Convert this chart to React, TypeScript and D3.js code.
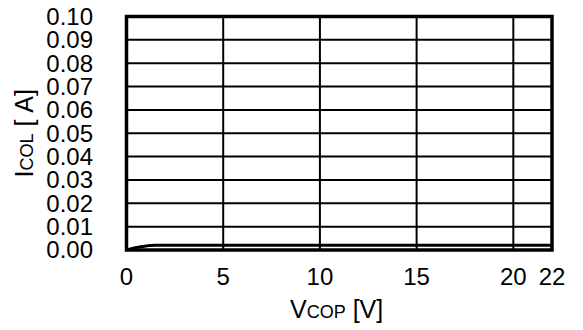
import React from "react";
import * as d3 from "d3";

const xTicks = [0, 5, 10, 15, 20, 22];
const yTicks = [0, 0.01, 0.02, 0.03, 0.04, 0.05, 0.06, 0.07, 0.08, 0.09, 0.1];
const vcop = [0, 0.2, 0.4, 0.6, 0.8, 1.0, 1.2, 1.5, 2, 5, 10, 15, 20, 22];
const icol = [0, 0.0005, 0.0009, 0.0012, 0.0015, 0.0017, 0.0019, 0.002, 0.002, 0.002, 0.002, 0.002, 0.002, 0.002];

export default function App() {
  const W = 583, H = 330;
  const m = { left: 126.5, right: 552, top: 16.5, bottom: 250 };
  const x = d3.scaleLinear().domain([0, 22]).range([m.left, m.right]);
  const y = d3.scaleLinear().domain([0, 0.1]).range([m.bottom, m.top]);
  const line = d3.line<number>().x((_, i) => x(vcop[i])).y((d) => y(d)).curve(d3.curveMonotoneX);
  const font = "Liberation Sans, Arial, sans-serif";
  const cy = (m.top + m.bottom) / 2;
  return (
    <svg width={W} height={H} style={{ position: "absolute", left: 0, top: 0, background: "#fff" }} fontFamily={font}>
      {yTicks.slice(1, -1).map((t) => (
        <line key={"hy" + t} x1={m.left} x2={m.right} y1={y(t)} y2={y(t)} stroke="#000" strokeWidth={2} />
      ))}
      {xTicks.filter((t) => t > 0 && t < 22).map((t) => (
        <line key={"vx" + t} x1={x(t)} x2={x(t)} y1={m.top} y2={m.bottom} stroke="#000" strokeWidth={2} />
      ))}
      <path d={line(icol) || ""} fill="none" stroke="#000" strokeWidth={3} />
      <rect x={m.left} y={m.top} width={m.right - m.left} height={m.bottom - m.top} fill="none" stroke="#000" strokeWidth={3.5} />
      {yTicks.map((t) => (
        <text key={"ty" + t} x={93} y={y(t)} dy="0.35em" textAnchor="end" fontSize={24} fill="#000">
          {t.toFixed(2)}
        </text>
      ))}
      {xTicks.map((t) => (
        <text key={"tx" + t} x={x(t)} y={285} textAnchor="middle" fontSize={24} fill="#000">
          {t}
        </text>
      ))}
      <text x={290} y={318} textAnchor="start" fontSize={25} fill="#000">
        V<tspan fontSize={18}>COP</tspan><tspan>{"\u00a0[V]"}</tspan>
      </text>
      <text transform={`translate(33,${cy}) rotate(-90)`} textAnchor="middle" fontSize={25} fill="#000">
        I<tspan fontSize={18}>COL</tspan><tspan>{"\u00a0[\u00a0A]"}</tspan>
      </text>
    </svg>
  );
}
